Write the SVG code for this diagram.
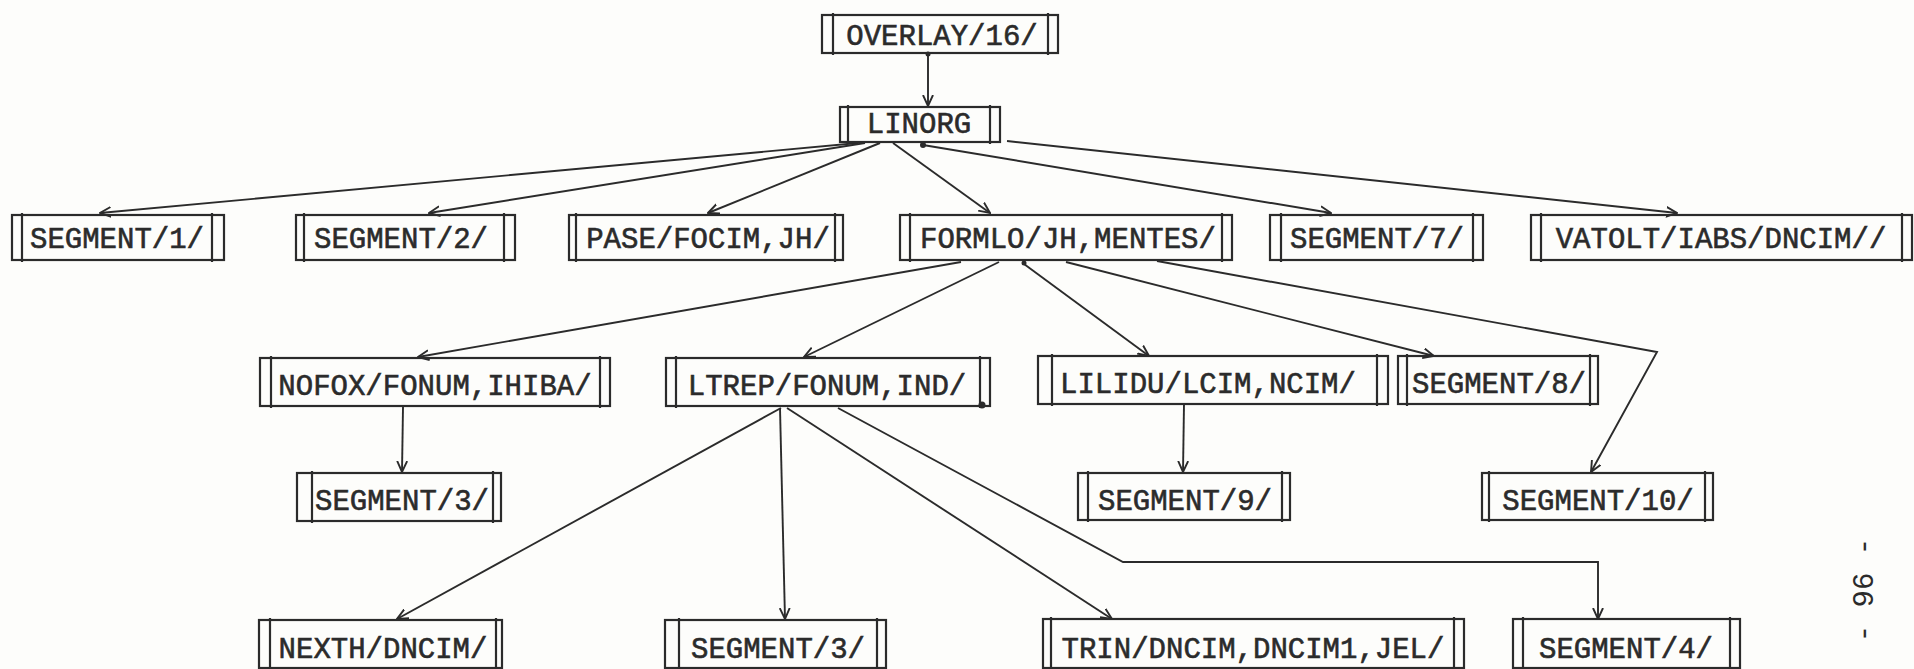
<svg xmlns="http://www.w3.org/2000/svg" width="1914" height="669" viewBox="0 0 1914 669">
<style>
.b rect{fill:none;stroke:#2b2b2b;stroke-width:2.2}
.b line{stroke:#2b2b2b;stroke-width:2.2}
.b text{font-family:"Liberation Mono","DejaVu Sans Mono",monospace;font-size:29px;fill:#2b2b2b;stroke:#2b2b2b;stroke-width:0.6;text-anchor:middle}
#connectors path,#connectors line,#connectors polyline{fill:none;stroke:#2b2b2b;stroke-width:1.9;marker-end:url(#ah)}
#connectors circle{fill:#2b2b2b}
</style>
<defs>
<marker id="ah" viewBox="0 0 12 12" refX="11" refY="6" markerWidth="12" markerHeight="12" markerUnits="userSpaceOnUse" orient="auto">
<path d="M0,1 L11,6 L0,11" fill="none" stroke="#2b2b2b" stroke-width="1.9"/>
</marker>
</defs>
<rect width="1914" height="669" fill="#fdfdfb"/>

<g id="connectors">
<line x1="928" y1="53" x2="928" y2="106"/>
<circle cx="928" cy="54" r="2.5"/>
<line x1="858" y1="143" x2="100" y2="213"/>
<line x1="865" y1="143" x2="429" y2="213"/>
<line x1="880" y1="143" x2="708" y2="213"/>
<line x1="893" y1="143" x2="990" y2="213"/>
<line x1="923" y1="145" x2="1331" y2="213"/>
<circle cx="923" cy="145" r="3"/>
<line x1="1007" y1="141" x2="1677" y2="213"/>
<line x1="961" y1="262" x2="418" y2="357"/>
<line x1="999" y1="262" x2="804" y2="357"/>
<line x1="1024" y1="264" x2="1149" y2="356"/>
<circle cx="1024" cy="263" r="2.5"/>
<line x1="1066" y1="262" x2="1434" y2="356"/>
<polyline points="1157,261 1657,352 1591,472"/>
<line x1="403" y1="407" x2="402" y2="472"/>
<line x1="781" y1="408" x2="397" y2="619"/>
<line x1="780" y1="408" x2="785" y2="619"/>
<line x1="787" y1="408" x2="1112" y2="619"/>
<polyline points="838,408 1123,562 1598,562 1598,619"/>
<circle cx="982" cy="405" r="3.5"/>
<line x1="1184" y1="404" x2="1183" y2="472"/>
</g>

<g id="n-overlay" class="b"><rect x="822" y="15" width="236" height="38"/><line x1="833" y1="13" x2="833" y2="55"/><line x1="1048" y1="13" x2="1048" y2="55"/><text x="942" y="45">OVERLAY/16/</text></g>
<g id="n-linorg" class="b"><rect x="840" y="107" width="160" height="35"/><line x1="848" y1="105" x2="848" y2="144"/><line x1="990" y1="105" x2="990" y2="144"/><text x="919" y="133">LINORG</text></g>

<g id="n-seg1" class="b"><rect x="12" y="215" width="212" height="45"/><line x1="22" y1="213" x2="22" y2="262"/><line x1="212" y1="213" x2="212" y2="262"/><text x="117" y="248">SEGMENT/1/</text></g>
<g id="n-seg2" class="b"><rect x="296" y="215" width="219" height="45"/><line x1="304" y1="213" x2="304" y2="262"/><line x1="504" y1="213" x2="504" y2="262"/><text x="401" y="248">SEGMENT/2/</text></g>
<g id="n-pase" class="b"><rect x="569" y="215" width="274" height="45"/><line x1="576" y1="213" x2="576" y2="262"/><line x1="835" y1="213" x2="835" y2="262"/><text x="708" y="248">PASE/FOCIM,JH/</text></g>
<g id="n-formlo" class="b"><rect x="900" y="215" width="332" height="45"/><line x1="910" y1="213" x2="910" y2="262"/><line x1="1222" y1="213" x2="1222" y2="262"/><text x="1068" y="248">FORMLO/JH,MENTES/</text></g>
<g id="n-seg7" class="b"><rect x="1270" y="215" width="213" height="45"/><line x1="1281" y1="213" x2="1281" y2="262"/><line x1="1473" y1="213" x2="1473" y2="262"/><text x="1377" y="248">SEGMENT/7/</text></g>
<g id="n-vatolt" class="b"><rect x="1531" y="215" width="381" height="45"/><line x1="1541" y1="213" x2="1541" y2="262"/><line x1="1902" y1="213" x2="1902" y2="262"/><text x="1721" y="248">VATOLT/IABS/DNCIM//</text></g>

<g id="n-nofox" class="b"><rect x="260" y="358" width="350" height="48"/><line x1="271" y1="356" x2="271" y2="408"/><line x1="600" y1="356" x2="600" y2="408"/><text x="435" y="395">NOFOX/FONUM,IHIBA/</text></g>
<g id="n-ltrep" class="b"><rect x="666" y="358" width="324" height="48"/><line x1="676" y1="356" x2="676" y2="408"/><line x1="980" y1="356" x2="980" y2="408"/><text x="827" y="395">LTREP/FONUM,IND/</text></g>
<g id="n-lilidu" class="b"><rect x="1038" y="356" width="350" height="48"/><line x1="1052" y1="354" x2="1052" y2="406"/><line x1="1377" y1="354" x2="1377" y2="406"/><text x="1208" y="393">LILIDU/LCIM,NCIM/</text></g>
<g id="n-seg8" class="b"><rect x="1398" y="356" width="200" height="48"/><line x1="1407" y1="354" x2="1407" y2="406"/><line x1="1590" y1="354" x2="1590" y2="406"/><text x="1499" y="393">SEGMENT/8/</text></g>

<g id="n-seg3a" class="b"><rect x="297" y="473" width="204" height="48"/><line x1="312" y1="471" x2="312" y2="523"/><line x1="493" y1="471" x2="493" y2="523"/><text x="402" y="510">SEGMENT/3/</text></g>
<g id="n-seg9" class="b"><rect x="1078" y="473" width="212" height="47"/><line x1="1088" y1="471" x2="1088" y2="522"/><line x1="1282" y1="471" x2="1282" y2="522"/><text x="1185" y="510">SEGMENT/9/</text></g>
<g id="n-seg10" class="b"><rect x="1482" y="473" width="231" height="47"/><line x1="1489" y1="471" x2="1489" y2="522"/><line x1="1705" y1="471" x2="1705" y2="522"/><text x="1598" y="510">SEGMENT/10/</text></g>

<g id="n-nexth" class="b"><rect x="259" y="620" width="243" height="48"/><line x1="270" y1="618" x2="270" y2="669"/><line x1="496" y1="618" x2="496" y2="669"/><text x="383" y="658">NEXTH/DNCIM/</text></g>
<g id="n-seg3b" class="b"><rect x="665" y="620" width="221" height="48"/><line x1="679" y1="618" x2="679" y2="669"/><line x1="877" y1="618" x2="877" y2="669"/><text x="778" y="658">SEGMENT/3/</text></g>
<g id="n-trin" class="b"><rect x="1043" y="619" width="421" height="49"/><line x1="1051" y1="617" x2="1051" y2="669"/><line x1="1454" y1="617" x2="1454" y2="669"/><text x="1253" y="658">TRIN/DNCIM,DNCIM1,JEL/</text></g>
<g id="n-seg4" class="b"><rect x="1513" y="619" width="227" height="49"/><line x1="1523" y1="617" x2="1523" y2="669"/><line x1="1730" y1="617" x2="1730" y2="669"/><text x="1626" y="658">SEGMENT/4/</text></g>

<text x="0" y="0" transform="translate(1873,590) rotate(-90)" font-family="'Liberation Mono','DejaVu Sans Mono',monospace" font-size="29" fill="#2b2b2b" text-anchor="middle">- 96 -</text>
</svg>
